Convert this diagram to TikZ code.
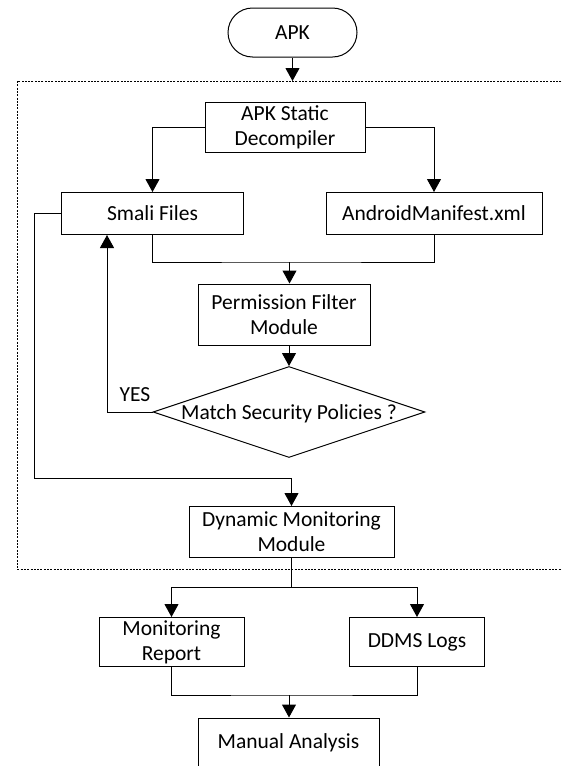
\documentclass[tikz,border=0pt]{standalone}
\usepackage{fontspec}
\setmainfont{Carlito}
\usetikzlibrary{arrows.meta,shapes.misc,shapes.geometric}
\begin{document}
\begin{tikzpicture}[x=1pt,y=-1pt,
  every node/.style={font=\fontsize{21.5}{25}\selectfont, align=center, inner sep=0pt},
  box/.style={draw, line width=1pt, rectangle},
  term/.style={draw, line width=1pt, rounded rectangle},
  link/.style={line width=1pt},
  arr/.style={link, -{Triangle[length=13pt,width=14pt]}},
  frame/.style={line width=0.6pt, dash pattern=on 2pt off 1.3pt}]
\useasboundingbox (0,0) rectangle (562,766);

% dashed frame around the analysis stage (right edge runs off the page)
\coordinate (fr-nw) at (17,81);
\coordinate (fr-se) at (580,569);
\draw[frame] (fr-nw) rectangle (fr-se);

% nodes
\node[term, minimum width=129pt, minimum height=49pt] (apk) at (292.5,32.5) {APK};
\node[box, minimum width=160pt, minimum height=50pt] (dec) at (285,127) {APK Static\\Decompiler};
\node[box, minimum width=182pt, minimum height=42pt] (smali) at (152.5,213.5) {Smali Files};
\node[box, minimum width=216pt, minimum height=42pt] (man) at (434,213.5) {AndroidManifest.xml};
\node[box, minimum width=172pt, minimum height=61pt] (perm) at (284,314.5) {Permission Filter\\Module};
\node[diamond, draw, line width=1pt, minimum width=272pt, minimum height=91pt] (dia) at (289,412) {};
\node (diatext) at (289,414) {Match Security Policies ?};
\node (yes) at (135,395) {YES};
\node[box, minimum width=205pt, minimum height=51pt] (dyn) at (291.5,532) {Dynamic Monitoring\\Module};
\node[box, minimum width=145pt, minimum height=49pt] (rep) at (171.5,642) {Monitoring\\Report};
\node[box, minimum width=135pt, minimum height=49pt] (ddms) at (417,642) {DDMS Logs};
\node[box, minimum width=181pt, minimum height=50pt] (manual) at (288.5,743) {Manual Analysis};

% junction points
\coordinate (j1) at (289.5,262);
\coordinate (yx) at (107,0);
\coordinate (lx) at (34,478);
\coordinate (j2) at (291.5,587);
\coordinate (j3) at (289,695);

% connectors
\draw[arr] (apk.south) -- (apk.south |- fr-nw);
\draw[arr] (dec.west) -| (smali.north);
\draw[arr] (dec.east) -| (man.north);
\draw[link] (smali.south) |- (j1) -| (man.south);
\draw[arr] (j1) -- (j1 |- perm.north);
\draw[arr] (dia.north |- perm.south) -- (dia.north);
\draw[arr] (dia.west) -| (yx |- smali.south);
\draw[arr] (smali.west) -| (lx) -| (dyn.north);
\draw[link] (dyn.south) -- (j2);
\draw[arr] (j2) -| (rep.north);
\draw[arr] (j2) -| (ddms.north);
\draw[link] (rep.south) |- (j3) -| (ddms.south);
\draw[arr] (j3) -- (j3 |- manual.north);
\end{tikzpicture}
\end{document}
